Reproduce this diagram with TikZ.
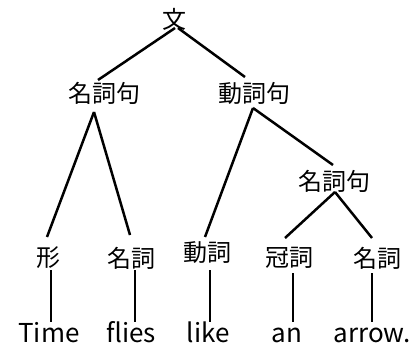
\documentclass[tikz,border=0pt]{standalone}
\usepackage{fontspec}
\setmainfont{Noto Sans CJK JP}
\begin{document}
\begin{tikzpicture}[x=1pt,y=-1pt,
  cat/.style={inner sep=0pt,font=\fontsize{24}{24}\selectfont},
  word/.style={inner sep=0pt,anchor=base,font=\fontsize{26}{26}\selectfont},
  edge/.style={line width=2.5pt,line cap=butt}]
\useasboundingbox[fill=white] (0,0) rectangle (414,347);
% categories
\node[cat] (s) at (174,19) {文};
\node[cat] (np1) at (104,93) {名詞句};
\node[cat] (vp) at (254,93) {動詞句};
\node[cat] (np2) at (334,181) {名詞句};
\node[cat] (adj) at (48,258) {形};
\node[cat] (n1) at (131,258) {名詞};
\node[cat] (v) at (207,253) {動詞};
\node[cat] (det) at (289,258) {冠詞};
\node[cat] (n2) at (377,258) {名詞};
% words
\node[word] (w1) at (49,342) {Time};
\node[word] (w2) at (131,342) {flies};
\node[word] (w3) at (208,342) {like};
\node[word] (w4) at (287,342) {an};
\node[word] (w5) at (372,342) {arrow.};
% edges
\draw[edge] ([shift={(1,9)}]s.center) -- ([shift={(-6,-13)}]np1.center);
\draw[edge] ([shift={(4,9)}]s.center) -- ([shift={(-9,-16)}]vp.center);
\draw[edge] ([shift={(-10,19)}]np1.center) -- ([shift={(-1,-21)}]adj.center);
\draw[edge] ([shift={(-10,19)}]np1.center) -- ([shift={(-1,-23)}]n1.center);
\draw[edge] ([shift={(-1,15)}]vp.center) -- ([shift={(-2,-16)}]v.center);
\draw[edge] ([shift={(-1,15)}]vp.center) -- ([shift={(-1,-16)}]np2.center);
\draw[edge] ([shift={(1,11)}]np2.center) -- ([shift={(-4,-20)}]det.center);
\draw[edge] ([shift={(1,11)}]np2.center) -- ([shift={(-5,-20)}]n2.center);
\draw[edge] ([shift={(3,12)}]adj.center) -- ([shift={(2,-20)}]w1.base);
\draw[edge] ([shift={(4,12)}]n1.center) -- ([shift={(4,-20)}]w2.base);
\draw[edge] ([shift={(3,17)}]v.center) -- ([shift={(2,-20)}]w3.base);
\draw[edge] ([shift={(4,15)}]det.center) -- ([shift={(6,-20)}]w4.base);
\draw[edge] ([shift={(-5,15)}]n2.center) -- ([shift={(0,-20)}]w5.base);
\end{tikzpicture}
\end{document}
